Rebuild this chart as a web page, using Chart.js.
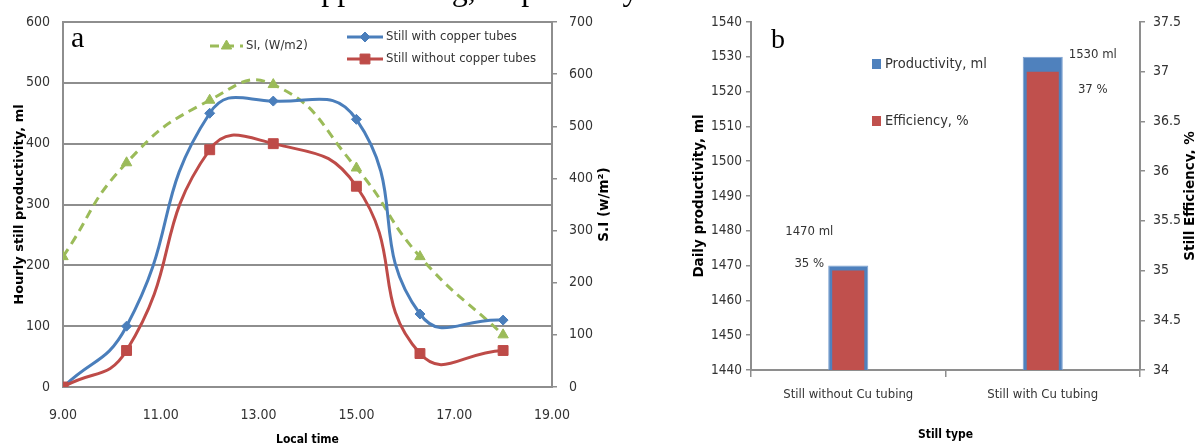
<!DOCTYPE html>
<html><head><meta charset="utf-8">
<script src="https://cdn.jsdelivr.net/npm/chart.js@4.4.1/dist/chart.umd.min.js"></script>
<style>
html,body{margin:0;padding:0;background:#fff;overflow:hidden;width:1195px;height:443px;position:relative;}
#wrapA{position:absolute;left:0;top:0;width:620px;height:460px;}
#wrapB{position:absolute;left:620px;top:0;width:575px;height:460px;}
#cap{position:absolute;left:291px;top:-27px;font-family:"Liberation Serif","Times New Roman",serif;font-size:32px;line-height:32px;white-space:nowrap;color:#000;}
</style></head><body>
<div id="wrapA"><canvas id="a" width="620" height="460"></canvas></div>
<div id="wrapB"><canvas id="b" width="575" height="460"></canvas></div>
<div id="cap">copper tubing, respectively</div>
<script>
// ---- data (chart a) ----
const times = [9.0, 10.3, 12.0, 13.3, 15.0, 16.3, 18.0];
const withCopper = [0, 100, 450, 470, 440, 120, 110];
const withoutCopper = [0, 60, 390, 400, 330, 55, 60];
const solarIntensity = [250, 430, 550, 580, 420, 250, 100];
// ---- data (chart b) ----
const stillTypes = ['Still without Cu tubing', 'Still with Cu tubing'];
const dailyProductivity = [1470, 1530];
const efficiency = [35, 37];
const productivityLabels = ['1470 ml', '1530 ml'];
const efficiencyLabels = ['35 %', '37 %'];

const GRID = '#8e8e8e';
const TXT = '#333333';
const BLUE = '#4a7ebb', RED = '#be4b48', GREEN = '#9bbb59';
const NARROW = '"Liberation Sans Narrow","Arial Narrow","DejaVu Sans Condensed",sans-serif';
const WIDE = '"DejaVu Sans",Verdana,sans-serif';

function rotTitle(ctx, text, x, y, font) {
  ctx.save();
  ctx.translate(x, y);
  ctx.rotate(-Math.PI / 2);
  ctx.font = font;
  ctx.fillStyle = '#000';
  ctx.textAlign = 'center';
  ctx.textBaseline = 'middle';
  ctx.fillText(text, 0, 0);
  ctx.restore();
}

const pts = (ys) => times.map((t, i) => ({x: t, y: ys[i]}));

// ---------------- Chart a ----------------
const overlayA = {
  id: 'overlayA',
  afterDraw(chart) {
    const ctx = chart.ctx;
    const y1 = chart.scales.y1;
    rotTitle(ctx, 'S.I (w/m\u00b2)', y1.right - 16, (y1.top + y1.bottom) / 2, 'bold 13.5px ' + WIDE);
    ctx.save();
    ctx.font = '30px "Liberation Serif",serif';
    ctx.fillStyle = '#000';
    ctx.textBaseline = 'alphabetic';
    ctx.textAlign = 'left';
    ctx.fillText('a', 71, 47);
    const ds = chart.data.datasets;
    const items = [
      {d: ds[2], x0: 210, x1: 243, y: 46, tx: 246},
      {d: ds[0], x0: 347, x1: 383, y: 37, tx: 386},
      {d: ds[1], x0: 347, x1: 383, y: 59, tx: 386},
    ];
    items.forEach(it => {
      ctx.save();
      ctx.strokeStyle = it.d.borderColor;
      ctx.lineWidth = 3;
      ctx.setLineDash(it.d.borderDash || []);
      ctx.beginPath();
      ctx.moveTo(it.x0, it.y); ctx.lineTo(it.x1, it.y);
      ctx.stroke();
      ctx.restore();
      ctx.fillStyle = it.d.backgroundColor;
      ctx.strokeStyle = it.d.borderColor;
      ctx.lineWidth = 1;
      Chart.helpers.drawPoint(ctx, {pointStyle: it.d.pointStyle, rotation: 0, borderWidth: 1, radius: it.d.pointRadius}, (it.x0 + it.x1) / 2, it.y);
      ctx.fillStyle = TXT;
      ctx.font = '13px ' + NARROW;
      ctx.textBaseline = 'middle';
      ctx.fillText(it.d.label, it.tx, it.y);
    });
    ctx.restore();
  }
};

new Chart(document.getElementById('a'), {
  type: 'line',
  data: {
    datasets: [
      {label: 'Still with copper tubes', data: pts(withCopper), yAxisID: 'y',
       borderColor: BLUE, backgroundColor: BLUE, borderWidth: 3, pointStyle: 'rectRot', pointRadius: 5,
       pointBorderWidth: 1, tension: 0.5, order: 2},
      {label: 'Still without copper tubes', data: pts(withoutCopper), yAxisID: 'y',
       borderColor: RED, backgroundColor: RED, borderWidth: 3, pointStyle: 'rect', pointRadius: 7,
       pointBorderWidth: 1, tension: 0.5, order: 1},
      {label: 'SI, (W/m2)', data: pts(solarIntensity), yAxisID: 'y1',
       borderColor: GREEN, backgroundColor: GREEN, borderWidth: 3, borderDash: [9, 6], pointStyle: 'triangle', pointRadius: 6,
       pointBorderWidth: 1, tension: 0.5, order: 3},
    ]
  },
  options: {
    responsive: false, animation: false,
    layout: {padding: {top: 22, left: 0, right: 0, bottom: 0}},
    plugins: {legend: {display: false}, tooltip: {enabled: false}},
    scales: {
      x: {type: 'linear', position: 'bottom', min: 9, max: 19,
          ticks: {stepSize: 2, callback: v => v.toFixed(2), font: {family: NARROW, size: 14}, color: TXT, padding: 20, maxRotation: 0, autoSkip: false},
          grid: {drawOnChartArea: false, drawTicks: false, color: GRID},
          border: {color: GRID, width: 2},
          title: {display: true, text: 'Local time', color: '#000', font: {family: NARROW, size: 12, weight: 'bold'}, padding: {top: 0, bottom: 13}},
          afterFit: s => { s.height = 73; }},
      y: {position: 'left', min: 0, max: 600,
          ticks: {stepSize: 100, font: {family: NARROW, size: 14}, color: TXT, padding: 13},
          grid: {color: GRID, lineWidth: 2, drawTicks: false},
          border: {color: GRID, width: 2},
          title: {display: true, text: 'Hourly still productivity, ml', color: '#000', font: {family: WIDE, size: 13, weight: 'bold'}, padding: {top: 12}},
          afterFit: s => { s.width = 63; }},
      y1: {position: 'right', min: 0, max: 700,
          ticks: {stepSize: 100, font: {family: NARROW, size: 14}, color: TXT, padding: 12},
          grid: {drawOnChartArea: false, drawTicks: true, tickLength: 5, color: GRID, lineWidth: 1.5},
          border: {color: GRID, width: 2},
          afterFit: s => { s.width = 68; }},
    }
  },
  plugins: [overlayA]
});

// ---------------- Chart b ----------------
const labelOffsets = [[[-39, -34], [50, -2]], [[-39, -7], [50, 18]]];
const overlayB = {
  id: 'overlayB',
  afterDraw(chart) {
    const ctx = chart.ctx;
    const y1 = chart.scales.y1;
    rotTitle(ctx, 'Still Efficiency, %', y1.right - 5, (y1.top + y1.bottom) / 2, 'bold 13.5px ' + WIDE);
    ctx.save();
    ctx.font = '28px "Liberation Serif",serif';
    ctx.fillStyle = '#000';
    ctx.textAlign = 'left';
    ctx.textBaseline = 'alphabetic';
    ctx.fillText('b', 151, 48);
    const ds = chart.data.datasets;
    [[ds[0], 64], [ds[1], 121]].forEach(([d, y]) => {
      ctx.fillStyle = d.backgroundColor;
      ctx.fillRect(252, y - 5, 9, 10);
      ctx.fillStyle = TXT;
      ctx.font = '14.5px ' + NARROW;
      ctx.textBaseline = 'middle';
      ctx.fillText(d.label, 265, y);
    });
    const texts = [productivityLabels, efficiencyLabels];
    ctx.font = '13px ' + NARROW;
    ctx.textAlign = 'center';
    ctx.textBaseline = 'middle';
    ctx.fillStyle = TXT;
    [0, 1].forEach(di => {
      chart.getDatasetMeta(di).data.forEach((el, i) => {
        const [dx, dy] = labelOffsets[di][i];
        ctx.fillText(texts[di][i], el.x + dx, el.y + dy);
      });
    });
    ctx.restore();
  }
};

new Chart(document.getElementById('b'), {
  type: 'bar',
  data: {
    labels: stillTypes,
    datasets: [
      {label: 'Productivity, ml', data: dailyProductivity, yAxisID: 'y', backgroundColor: '#4f81bd',
       borderColor: '#7ba0cf', borderWidth: 1, barPercentage: 0.206, categoryPercentage: 1, grouped: false, order: 2},
      {label: 'Efficiency, %', data: efficiency, yAxisID: 'y1', backgroundColor: '#c0504d',
       barPercentage: 0.165, categoryPercentage: 1, grouped: false, order: 1},
    ]
  },
  options: {
    responsive: false, animation: false,
    layout: {padding: {top: 22, left: 0, right: 0, bottom: 0}},
    plugins: {legend: {display: false}, tooltip: {enabled: false}},
    scales: {
      x: {position: 'bottom',
          ticks: {font: {family: NARROW, size: 13}, color: TXT, padding: 10, maxRotation: 0, autoSkip: false},
          grid: {offset: true, drawOnChartArea: false, drawTicks: true, tickLength: 7, color: GRID, lineWidth: 1.5},
          border: {color: GRID, width: 2},
          title: {display: true, text: 'Still type', color: '#000', font: {family: NARROW, size: 12, weight: 'bold'}, padding: {top: 0, bottom: 18}},
          afterFit: s => { s.height = 90; }},
      y: {position: 'left', min: 1440, max: 1540,
          ticks: {stepSize: 10, callback: v => String(v), font: {family: NARROW, size: 13.5}, color: TXT, padding: 4},
          grid: {drawOnChartArea: false, drawTicks: true, tickLength: 5, color: GRID, lineWidth: 1.5},
          border: {color: GRID, width: 2},
          title: {display: true, text: 'Daily productivity, ml', color: '#000', font: {family: WIDE, size: 13.5, weight: 'bold'}, padding: {top: 71}},
          afterFit: s => { s.width = 131; }},
      y1: {position: 'right', min: 34, max: 37.5,
          ticks: {stepSize: 0.5, callback: v => String(v), font: {family: NARROW, size: 14}, color: TXT, padding: 8},
          grid: {drawOnChartArea: false, drawTicks: true, tickLength: 5, color: GRID, lineWidth: 1.5},
          border: {color: GRID, width: 2},
          afterFit: s => { s.width = 55; }},
    }
  },
  plugins: [overlayB]
});
</script>
</body></html>
